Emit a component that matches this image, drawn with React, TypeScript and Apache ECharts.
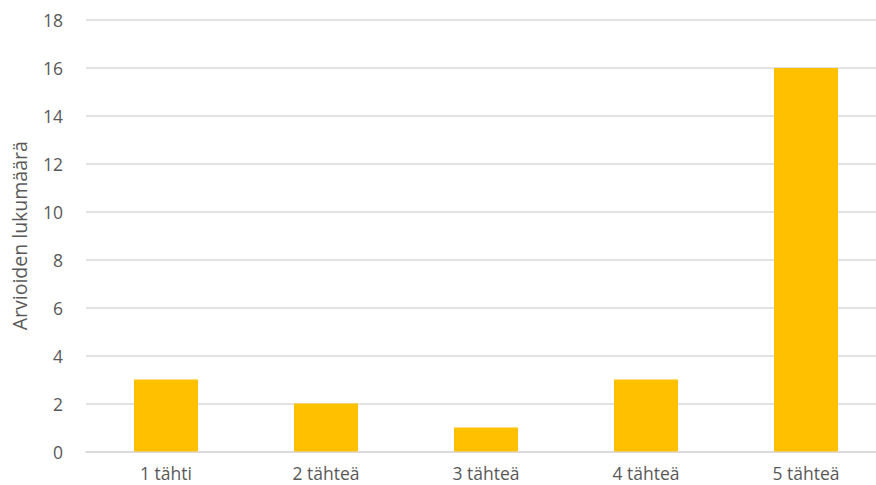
import React, { useEffect, useRef } from "react";
import * as echarts from "echarts";

const categories = ["1 tähti", "2 tähteä", "3 tähteä", "4 tähteä", "5 tähteä"];
const reviewCounts = [3, 2, 1, 3, 16];
const yAxisTitle = "Arvioiden lukumäärä";

export default function App() {
  const ref = useRef<HTMLDivElement>(null);

  useEffect(() => {
    if (!ref.current) return;
    const chart = echarts.init(ref.current, null, { renderer: "svg" });
    const font = "'Open Sans', 'Noto Sans', sans-serif";
    chart.setOption({
      animation: false,
      backgroundColor: "#ffffff",
      grid: { left: 86, right: 0, top: 20, bottom: 33.5 },
      xAxis: {
        type: "category",
        data: categories,
        axisTick: { show: false },
        axisLine: { show: true, lineStyle: { color: "#d9d9d9", width: 1.5 } },
        axisLabel: { color: "#595959", fontFamily: font, fontSize: 17.5, margin: 12 },
      },
      yAxis: {
        type: "value",
        min: 0,
        max: 18,
        interval: 2,
        name: yAxisTitle,
        nameLocation: "middle",
        nameGap: 57,
        nameTextStyle: { color: "#595959", fontFamily: font, fontSize: 19.5 },
        axisLabel: { color: "#595959", fontFamily: font, fontSize: 17.5, margin: 23 },
        splitLine: { lineStyle: { color: "#d9d9d9", width: 1.5 } },
        axisLine: { show: false },
        axisTick: { show: false },
      },
      series: [
        {
          type: "bar",
          data: reviewCounts,
          barCategoryGap: "60%",
          itemStyle: { color: "#FFC000" },
        },
      ],
    });
    return () => chart.dispose();
  }, []);

  return (
    <div
      style={{
        position: "fixed",
        left: 0,
        top: 0,
        width: 876,
        height: 485,
        overflow: "hidden",
        background: "#ffffff",
      }}
    >
      <div ref={ref} style={{ width: 886, height: 485 }} />
    </div>
  );
}
